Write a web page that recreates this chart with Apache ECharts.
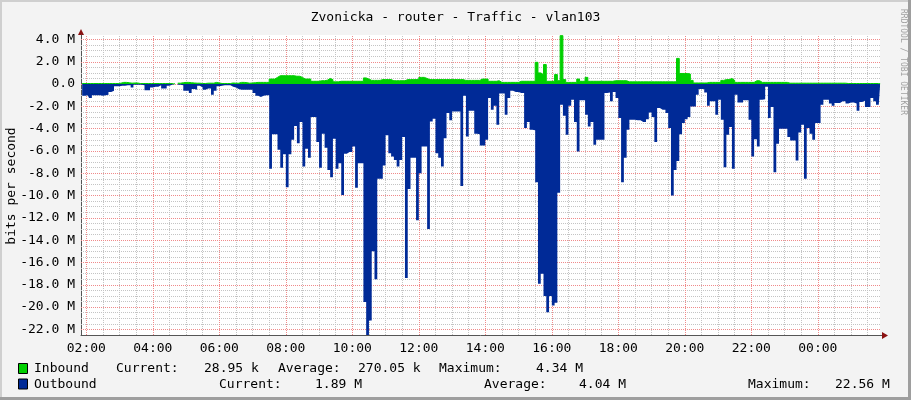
<!DOCTYPE html>
<html>
<head>
<meta charset="utf-8">
<script src="https://cdn.jsdelivr.net/npm/echarts@6/dist/echarts.min.js"></script>
<style>
  html, body { margin: 0; padding: 0; background: #f3f3f3; }
  #main { width: 911px; height: 400px; }
</style>
</head>
<body>
<div id="main"></div>
<script>
// 5 minute samples, first one starts at 01:50
var startHour = 1 + 50 / 60;
var stepHour = 5 / 60;

// bits per second, in M (one row = one hour)
var inbound = [
  0.05, 0.05, 0.05, 0.05, 0.05, 0.05, 0.05, 0.05, 0.05, 0.05, 0.05, 0.05,
  0.05, 0.05, 0.08, 0.15, 0.15, 0.12, 0.08, 0.1, 0.1, 0.05, 0.05, 0.05,
  0.05, 0.05, 0.05, 0.05, 0.05, 0.05, 0.05, 0.05, 0.05, 0.03, null, 0.08,
  0.12, 0.15, 0.15, 0.12, 0.1, 0.08, 0.08, 0.05, 0.05, 0.08, 0.08, 0.08,
  0.15, 0.1, 0.05, 0.05, 0.05, 0.05, 0.1, 0.08, 0.08, 0.15, 0.15, 0.12,
  0.08, 0.1, 0.12, 0.15, 0.15, 0.15, 0.15, 0.15, 0.45, 0.45, 0.6, 0.75,
  0.75, 0.75, 0.75, 0.75, 0.75, 0.7, 0.7, 0.6, 0.45, 0.45, 0.45, 0.25,
  0.25, 0.25, 0.3, 0.3, 0.35, 0.5, 0.4, 0.2, 0.2, 0.25, 0.25, 0.25,
  0.25, 0.25, 0.25, 0.25, 0.25, 0.25, 0.55, 0.45, 0.33, 0.33, 0.33, 0.33,
  0.4, 0.4, 0.4, 0.4, 0.3, 0.3, 0.3, 0.3, 0.3, 0.4, 0.4, 0.4,
  0.4, 0.4, 0.6, 0.6, 0.5, 0.4, 0.4, 0.4, 0.4, 0.4, 0.4, 0.4,
  0.4, 0.4, 0.4, 0.4, 0.4, 0.4, 0.33, 0.33, 0.33, 0.33, 0.33, 0.33,
  0.45, 0.45, 0.45, 0.25, 0.25, 0.25, 0.3, 0.15, 0.15, 0.15, 0.15, 0.15,
  0.15, 0.15, 0.25, 0.25, 0.25, 0.25, 0.25, 0.25, 1.95, 1.0, 0.85, 1.75,
  0.25, 0.25, 0.25, 0.85, 0.3, 4.34, 0.4, 0.15, 0.15, 0.15, 0.15, 0.45,
  0.25, 0.25, 0.6, 0.25, 0.25, 0.25, 0.25, 0.25, 0.25, 0.25, 0.25, 0.25,
  0.3, 0.3, 0.3, 0.3, 0.3, 0.2, 0.2, 0.2, 0.2, 0.2, 0.2, 0.2,
  0.2, 0.2, 0.2, 0.2, 0.2, 0.2, 0.2, 0.2, 0.2, 0.2, 0.2, 2.3,
  0.95, 0.95, 0.95, 0.9, 0.33, 0.1, 0.1, 0.1, 0.1, 0.1, 0.15, 0.15,
  0.15, 0.15, 0.15, 0.33, 0.4, 0.4, 0.5, 0.33, 0.15, 0.15, 0.15, 0.15,
  0.15, 0.15, 0.15, 0.3, 0.3, 0.15, 0.15, 0.15, 0.15, 0.15, 0.15, 0.15,
  0.15, 0.15, 0.15, 0.08, 0.08, 0.08, 0.08, 0.08, 0.08, 0.08, 0.08, 0.08,
  0.08, 0.08, 0.08, 0.08, 0.08, 0.08, 0.08, 0.08, 0.08, 0.08, 0.08, 0.08,
  0.05, 0.05, 0.05, 0.05, 0.05, 0.05, 0.05, 0.05, 0.05, 0.05, 0.05, 0.05,
  0.03
];

var outbound = [
  -1.05, -1.05, -1.0, -1.25, -1.0, -1.0, -1.0, -1.05, -1.0, -0.95, -0.7, -0.6,
  -0.2, -0.2, -0.15, -0.15, -0.1, -0.1, -0.3, -0.05, -0.05, -0.05, -0.1, -0.55,
  -0.55, -0.3, -0.25, -0.25, -0.1, -0.4, -0.4, -0.15, -0.05, -0.05, null, -0.05,
  -0.1, -0.6, -0.6, -0.8, -0.45, -0.5, -0.15, -0.3, -0.5, -0.4, -0.4, -0.95,
  -0.6, -0.2, -0.15, -0.1, -0.1, -0.1, -0.25, -0.3, -0.45, -0.5, -0.5, -0.5,
  -0.5, -0.5, -0.8, -1.05, -1.15, -1.05, -1.0, -1.0, -7.6, -4.5, -4.5, -5.9,
  -7.5, -6.3, -9.25, -6.3, -5.0, -3.75, -5.3, -3.4, -7.4, -5.8, -6.6, -2.95,
  -2.95, -5.2, -7.5, -4.45, -5.7, -7.7, -8.35, -4.9, -7.6, -7.1, -9.95, -6.25,
  -6.1, -6.1, -5.6, -9.3, -7.1, -7.1, -19.55, -22.56, -21.2, -15.0, -17.5, -8.5,
  -8.5, -7.3, -4.6, -6.2, -6.5, -6.8, -7.4, -6.8, -4.75, -17.4, -9.4, -6.6,
  -6.6, -12.2, -8.0, -5.6, -5.6, -13.0, -3.35, -3.1, -6.2, -6.6, -7.4, -4.85,
  -2.6, -3.25, -2.45, -2.45, -2.45, -9.15, -1.05, -4.7, -2.4, -2.4, -4.45, -4.5,
  -5.5, -5.5, -5.0, -1.25, -2.3, -1.95, -3.65, -0.85, -0.85, -2.75, -1.25, -0.6,
  -0.7, -0.7, -0.8, -0.8, -3.95, -3.4, -4.1, -4.15, -8.8, -17.9, -17.0, -19.0,
  -20.45, -19.0, -19.85, -19.6, -9.75, -1.85, -2.85, -4.55, -1.95, -1.4, -3.4, -6.05,
  -1.45, -1.45, -2.75, -3.8, -3.4, -5.45, -5.0, -5.0, -5.0, -0.8, -0.75, -1.55,
  -0.7, -1.25, -3.05, -8.8, -6.6, -4.1, -3.2, -3.2, -3.25, -3.25, -3.4, -3.4,
  -3.15, -2.55, -2.95, -5.2, -2.15, -2.3, -2.3, -2.6, -3.95, -10.0, -7.7, -6.9,
  -4.5, -3.5, -3.15, -2.95, -2.0, -2.0, -0.95, -0.45, -0.45, -0.75, -1.95, -1.55,
  -1.55, -2.75, -1.4, -3.2, -7.45, -4.55, -3.85, -7.6, -0.95, -1.65, -1.65, -1.45,
  -1.45, -3.2, -6.5, -4.95, -5.6, -1.4, -1.35, -0.25, -3.05, -2.05, -7.9, -5.35,
  -4.0, -4.0, -4.0, -4.75, -5.05, -5.05, -6.85, -4.35, -3.65, -8.5, -3.95, -4.45,
  -5.0, -3.5, -3.5, -1.85, -1.4, -1.4, -1.75, -1.95, -1.7, -1.7, -1.55, -1.55,
  -1.75, -1.65, -1.65, -1.75, -2.4, -1.6, -1.5, -2.05, -2.05, -1.25, -1.55, -1.85,
  -1.89
];

// tick labels (hours, 24 = 00:00 next day) and y values in M
var timeTicks = [2, 4, 6, 8, 10, 12, 14, 16, 18, 20, 22, 24];
var valueTicks = [-22, -20, -18, -16, -14, -12, -10, -8, -6, -4, -2, 0, 2, 4];

var legendRows = [
  { name: 'Inbound', color: '#00cf00', cur: '28.95 k', avg: '270.05 k', max: '4.34 M' },
  { name: 'Outbound', color: '#002a97', cur: '1.89 M', avg: '4.04 M', max: '22.56 M' }
];

var mono = 'DejaVu Sans Mono';

function toPoints(arr) {
  return arr.map(function (v, i) {
    return [startHour + stepHour * (i + 0.5), v];
  });
}

// grid lines
var vMajor = [], vMinor = [], hMajor = [], hMinor = [];
for (var h = 2; h <= 25.5; h += 0.5) {
  if (h % 2 === 0) vMajor.push({ xAxis: h }); else vMinor.push({ xAxis: h });
}
for (var m = -22; m <= 4; m += 0.5) {
  if (m % 2 === 0) hMajor.push({ yAxis: m }); else hMinor.push({ yAxis: m });
}

function gridSeries(lines, color) {
  return {
    type: 'line', data: [], z: 1, silent: true,
    markLine: {
      silent: true, symbol: 'none', animation: false, z: 1,
      label: { show: false },
      lineStyle: { color: color, width: 1, type: [1, 1] },
      emphasis: { disabled: true },
      data: lines
    }
  };
}

var chart = echarts.init(document.getElementById('main'));

var graphics = [
  // frame
  { type: 'rect', shape: { x: 0, y: 0, width: 911, height: 2 }, style: { fill: '#cfcfcf' } },
  { type: 'rect', shape: { x: 0, y: 0, width: 2, height: 400 }, style: { fill: '#cfcfcf' } },
  { type: 'rect', shape: { x: 908, y: 0, width: 3, height: 400 }, style: { fill: '#9e9e9e' } },
  { type: 'rect', shape: { x: 0, y: 397, width: 911, height: 3 }, style: { fill: '#9e9e9e' } },
  // axis arrows
  { type: 'line', shape: { x1: 880, y1: 335.5, x2: 883, y2: 335.5 }, style: { stroke: '#555', lineWidth: 1 } },
  { type: 'polygon', shape: { points: [[78, 35], [84, 35], [81, 29]] }, style: { fill: '#8b1010' } },
  { type: 'polygon', shape: { points: [[882, 332], [882, 339], [888, 335.5]] }, style: { fill: '#8b1010' } },
  // y axis name
  { type: 'text', x: 12, y: 186, rotation: Math.PI / 2,
    style: { text: 'bits per second', font: '13px "' + mono + '"', fill: '#000', align: 'center', verticalAlign: 'middle' } },
  // watermark
  { type: 'text', x: 903, y: 62, rotation: -Math.PI / 2,
    style: { text: 'RRDTOOL / TOBI OETIKER', font: '8px "' + mono + '"', fill: '#a0a0a0', align: 'center', verticalAlign: 'middle' } }
];

// legend
var legendX = [
  { name: 34, curL: 116, cur: 204, avgL: 278, avg: 358, maxL: 439, max: 536 },
  { name: 34, curL: 219, cur: 315, avgL: 484, avg: 579, maxL: 748, max: 835 }
];
var legendY = [369, 384.5];
legendRows.forEach(function (row, r) {
  var y = legendY[r], p = legendX[r];
  graphics.push({ type: 'rect', shape: { x: 18.5, y: y - 5.5, width: 9, height: 10 },
    style: { fill: row.color, stroke: '#000', lineWidth: 1 } });
  [[p.name, row.name], [p.curL, 'Current:'], [p.cur, row.cur], [p.avgL, 'Average:'],
   [p.avg, row.avg], [p.maxL, 'Maximum:'], [p.max, row.max]].forEach(function (t) {
    graphics.push({ type: 'text', x: t[0], y: y,
      style: { text: t[1], font: '13px "' + mono + '"', fill: '#000', align: 'left', verticalAlign: 'middle' } });
  });
});

var option = {
  animation: false,
  backgroundColor: '#f3f3f3',
  textStyle: { fontFamily: mono },
  title: {
    text: 'Zvonicka - router - Traffic - vlan103',
    left: 'center', top: 6,
    textStyle: { fontFamily: mono, fontSize: 13, fontWeight: 'normal', color: '#000' }
  },
  grid: { left: 81, top: 35, width: 799, height: 300, show: true, backgroundColor: '#ffffff', borderWidth: 0 },
  xAxis: {
    type: 'value', min: 1.84, max: 25.87,
    axisLine: { show: true, onZero: false, lineStyle: { color: '#555' } },
    axisTick: { show: false },
    splitLine: { show: false },
    axisLabel: {
      customValues: timeTicks, margin: 7,
      fontFamily: mono, fontSize: 13, color: '#000',
      formatter: function (v) {
        var hh = Math.round(v) % 24;
        return (hh < 10 ? '0' : '') + hh + ':00';
      }
    }
  },
  yAxis: {
    type: 'value', min: -22.5, max: 4.4,
    axisLine: { show: true, onZero: false, lineStyle: { color: '#555' } },
    axisTick: { show: false },
    splitLine: { show: false },
    axisLabel: {
      customValues: valueTicks, margin: 6,
      fontFamily: mono, fontSize: 13, color: '#000',
      formatter: function (v) {
        return v === 0 ? '0.0' : v.toFixed(1) + ' M';
      }
    }
  },
  series: [
    gridSeries(vMinor.concat(hMinor), '#c4c4c4'),
    gridSeries(vMajor.concat(hMajor), '#f08a8a'),
    {
      name: 'Outbound', type: 'line', step: 'middle', zlevel: 1, z: 10,
      data: toPoints(outbound), showSymbol: false, connectNulls: false,
      lineStyle: { width: 0, color: '#002a97' },
      areaStyle: { color: '#002a97', opacity: 1 },
      itemStyle: { color: '#002a97' }
    },
    {
      name: 'Inbound', type: 'line', step: 'middle', zlevel: 1, z: 11,
      data: toPoints(inbound), showSymbol: false, connectNulls: false,
      lineStyle: { width: 1, color: '#00cf00' },
      areaStyle: { color: '#00cf00', opacity: 1 },
      itemStyle: { color: '#00cf00' }
    }
  ],
  graphic: graphics
};

chart.setOption(option);
</script>
</body>
</html>
